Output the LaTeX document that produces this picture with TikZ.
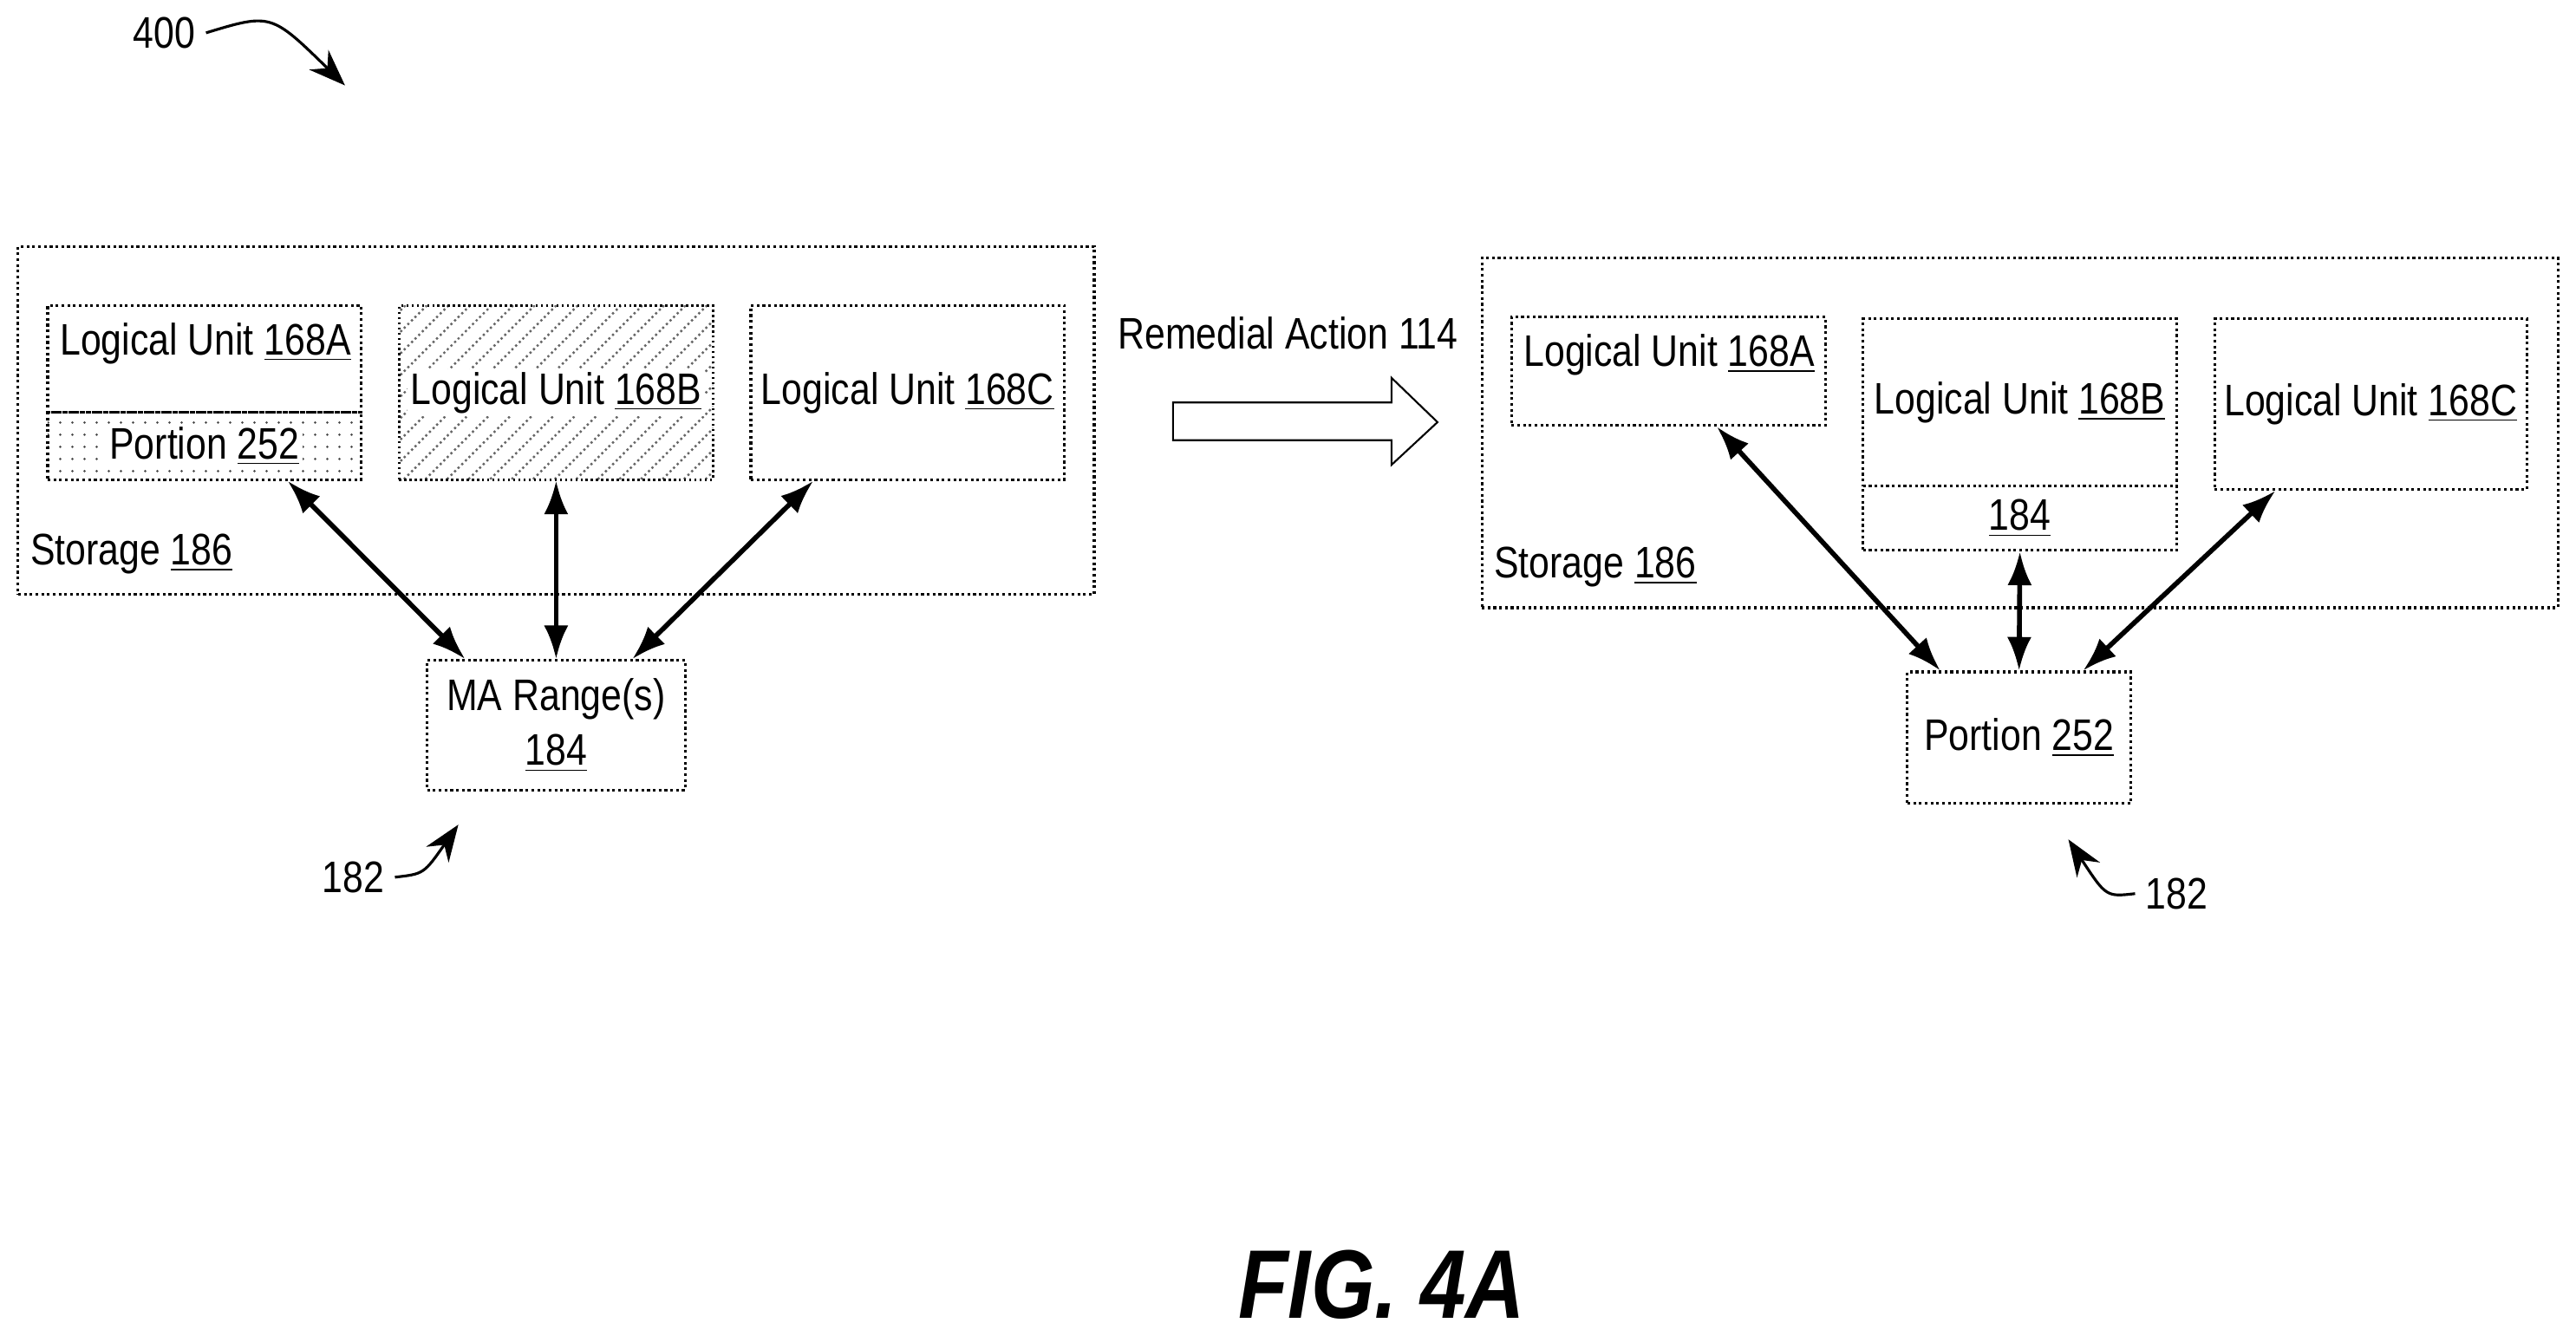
\documentclass[tikz,border=0pt]{standalone}
\usepackage{fontspec}
\setmainfont{Liberation Sans}[FakeStretch=0.84]
\usetikzlibrary{fit,patterns,patterns.meta,arrows.meta}

\tikzset{
    box/.style={draw, densely dotted, line width=0.9pt, inner sep=0pt},
    link/.style={{Latex[length=11pt,width=8pt]}-{Latex[length=11pt,width=8pt]}, line width=1.6pt},
    callout/.style={-{Stealth[length=12pt,width=9pt]}, line width=0.9pt},
}

\begin{document}
\begin{tikzpicture}[x=0.01895cm, y=-0.01895cm, font=\fontsize{14.5}{18}\selectfont]
        \useasboundingbox (0,0) rectangle (1568,813);

        % before
        \node[box, fit={(11,150) (666,362)}] (S1) {};
        \node[anchor=south west] at (12,356) {Storage \underline{186}};
        \node[box, fit={(29,186) (220,251)}] (A1) {};
        \node[anchor=north west] at (30,190) {Logical Unit \underline{168A}};
        \node[box, pattern={Dots[distance=4pt,radius=0.45pt]}, pattern color=black!70, fit={(29,251) (220,292)}, label={[fill=white, inner sep=1pt]center:Portion \underline{252}}] (P1) {};
        \node[box, pattern={Lines[angle=45,distance=5pt,line width=0.7pt]}, pattern color=black!60, fit={(243,186) (434,292)}, label={[fill=white, inner sep=1pt]center:Logical Unit \underline{168B}}] (B1) {};
        \node[box, fit={(457,186) (648,292)}, label=center:Logical Unit \underline{168C}] (C1) {};
        \node[box, fit={(260,402) (417,481)}, label={[align=center]center:MA Range(s)\\\underline{184}}] (M1) {};

        \draw [link]          ([xshift=0.96cm]P1.south)--([xshift=-1.05cm]M1.north);
        \draw [link]          (B1.south)--(M1.north);
        \draw [link]          ([xshift=-1.09cm]C1.south)--([xshift=0.88cm]M1.north);

        % action
        \node (R) at (784,203) {Remedial Action 114};
        \draw[line width=0.6pt] (714,245) -- (847,245) -- (847,230) -- (875,257) -- (847,283) -- (847,268) -- (714,268) -- cycle;

        % after
        \node[box, fit={(902,157) (1557,370)}] (S2) {};
        \node[anchor=south west] at (903,364) {Storage \underline{186}};
        \node[box, fit={(920,193) (1111,259)}] (A2) {};
        \node[anchor=north west] at (921,197) {Logical Unit \underline{168A}};
        \node[box, fit={(1134,194) (1325,296)}, label=center:Logical Unit \underline{168B}] (B2) {};
        \node[box, fit={(1134,296) (1325,335)}, label=center:\underline{184}] (M2) {};
        \node[box, fit={(1348,194) (1538,298)}, label=center:Logical Unit \underline{168C}] (C2) {};
        \node[box, fit={(1161,409) (1297,489)}, label=center:Portion \underline{252}] (P2) {};

        \draw [link]          ([xshift=0.56cm]A2.south)--([xshift=-0.91cm]P2.north);
        \draw [link]          (M2.south)--(P2.north);
        \draw [link]          ([xshift=-1.10cm]C2.south)--([xshift=0.74cm]P2.north);

        % reference numerals
        \node (n400) at (100,20) {400};
        \coordinate (t400) at (210,52);
        \draw [callout] (n400.east) .. controls (165,8) .. (t400);
        \node (n182a) at (215,534) {182};
        \coordinate (t182a) at (279,502);
        \draw [callout] (n182a.east) .. controls (258,532) .. (t182a);
        \node (n182b) at (1325,544) {182};
        \coordinate (t182b) at (1259,511);
        \draw [callout] (n182b.west) .. controls (1282,546) .. (t182b);

        \node[font=\fontsize{32}{38}\selectfont\bfseries\itshape] (fig) at (841,782) {FIG. 4A};
    \end{tikzpicture}
\end{document}
